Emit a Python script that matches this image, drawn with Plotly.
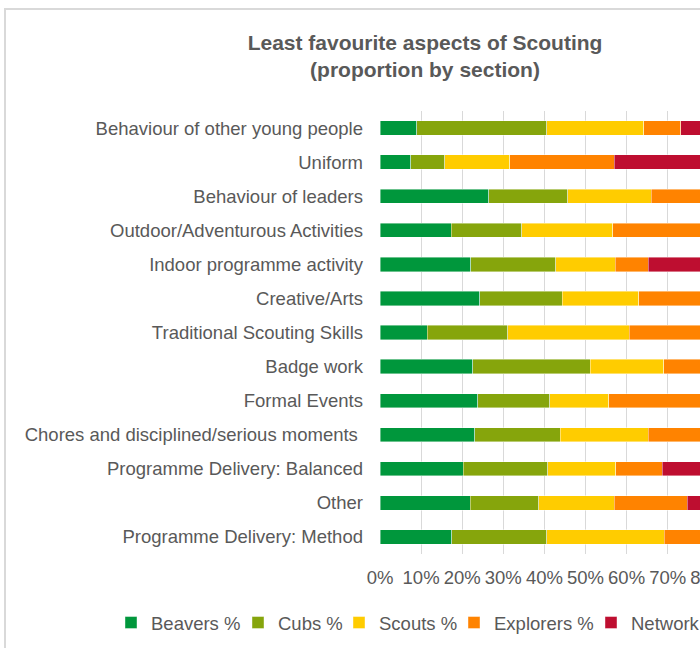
import plotly.graph_objects as go

categories = [
    "Behaviour of other young people",
    "Uniform",
    "Behaviour of leaders",
    "Outdoor/Adventurous Activities",
    "Indoor programme activity",
    "Creative/Arts",
    "Traditional Scouting Skills",
    "Badge work",
    "Formal Events",
    "Chores and disciplined/serious moments ",
    "Programme Delivery: Balanced",
    "Other",
    "Programme Delivery: Method",
]

beavers = [9.0, 7.5, 26.5, 17.3, 22.1, 24.3, 11.5, 22.6, 23.8, 23.1, 20.3, 21.9, 17.4]
cubs = [31.6, 8.3, 19.2, 17.2, 20.7, 20.0, 19.6, 28.5, 17.5, 20.7, 20.5, 16.7, 23.2]
scouts = [23.6, 15.8, 20.3, 22.1, 14.4, 18.7, 29.5, 17.9, 14.4, 21.5, 16.5, 18.4, 28.6]
explorers = [9.0, 25.4, 20.0, 30.0, 8.1, 22.0, 25.0, 18.0, 28.0, 22.0, 11.4, 17.7, 18.0]
network = [26.8, 43.0, 14.0, 13.4, 34.7, 15.0, 14.4, 13.0, 16.3, 12.7, 31.3, 25.3, 12.8]

series_names = ["Beavers %", "Cubs %", "Scouts %", "Explorers %", "Network %"]
series_values = [beavers, cubs, scouts, explorers, network]
series_colors = ["#00973C", "#86A50C", "#FFCC00", "#FF8300", "#BE0E30"]
legend_entry_widths = [82, 56, 70, 92, 90]  # px, spacing of legend entries

x_ticks = [0, 10, 20, 30, 40, 50, 60, 70, 80, 90, 100]
x_ticktext = [f"{v}%" for v in x_ticks]

# The original chart is wider/taller than the 700x648 window; it is cropped like the reference.
W, H = 850, 670
L, R, T, B = 380, 59, 111, 116
FONT = "Liberation Sans, Arial, sans-serif"
GREY = "#595959"

fig = go.Figure()
for name, vals, col, lw in zip(series_names, series_values, series_colors, legend_entry_widths):
    fig.add_trace(go.Bar(
        y=categories, x=vals, name=name, orientation="h",
        width=0.42, legendwidth=lw,
        marker=dict(color=col, line=dict(color="rgba(255,255,255,0.6)", width=0.7)),
    ))

ticktext = [c.rstrip() + ("\u00a0" if c.endswith(" ") else "") for c in categories]

pw = W - L - R
ph = H - T - B


def py(px):
    return 1 - (px - T) / ph


def pxx(px):
    return (px - L) / pw


fig.add_shape(type="rect", xref="paper", yref="paper",
              x0=pxx(5), x1=pxx(W - 3),
              y0=py(H + 20), y1=py(9),
              line=dict(color="#D9D9D9", width=2), fillcolor="rgba(0,0,0,0)", layer="below")

fig.update_layout(
    width=W, height=H,
    margin=dict(l=L, r=R, t=T, b=B),
    paper_bgcolor="white", plot_bgcolor="white",
    barmode="stack",
    font=dict(family=FONT, size=18.5, color=GREY),
    title=dict(text="<b>Least favourite aspects of Scouting<br>(proportion by section)</b>",
               x=0.5, xref="container", xanchor="center",
               y=1 - 50 / H, yref="container", yanchor="top",
               font=dict(family=FONT, size=21, color=GREY)),
    xaxis=dict(range=[0, 100], tickvals=x_ticks, ticktext=x_ticktext,
               tickangle=0, automargin=False,
               showgrid=True, gridcolor="#D9D9D9", gridwidth=1,
               zeroline=False, showline=False, ticks="",
               ticklabelstandoff=10,
               tickfont=dict(family=FONT, size=18.5, color=GREY)),
    yaxis=dict(categoryorder="array", categoryarray=categories,
               autorange="reversed", tickvals=categories, ticktext=ticktext,
               automargin=False,
               showgrid=False, zeroline=False, showline=False, ticks="",
               ticklabelstandoff=16,
               tickfont=dict(family=FONT, size=18.5, color=GREY)),
    legend=dict(orientation="h",
                x=pxx(111), xref="paper", xanchor="left",
                y=py(604), yref="paper", yanchor="top",
                font=dict(family=FONT, size=18.5, color=GREY),
                itemwidth=30, traceorder="normal"),
    showlegend=True,
)

fig.write_html("out.html")
